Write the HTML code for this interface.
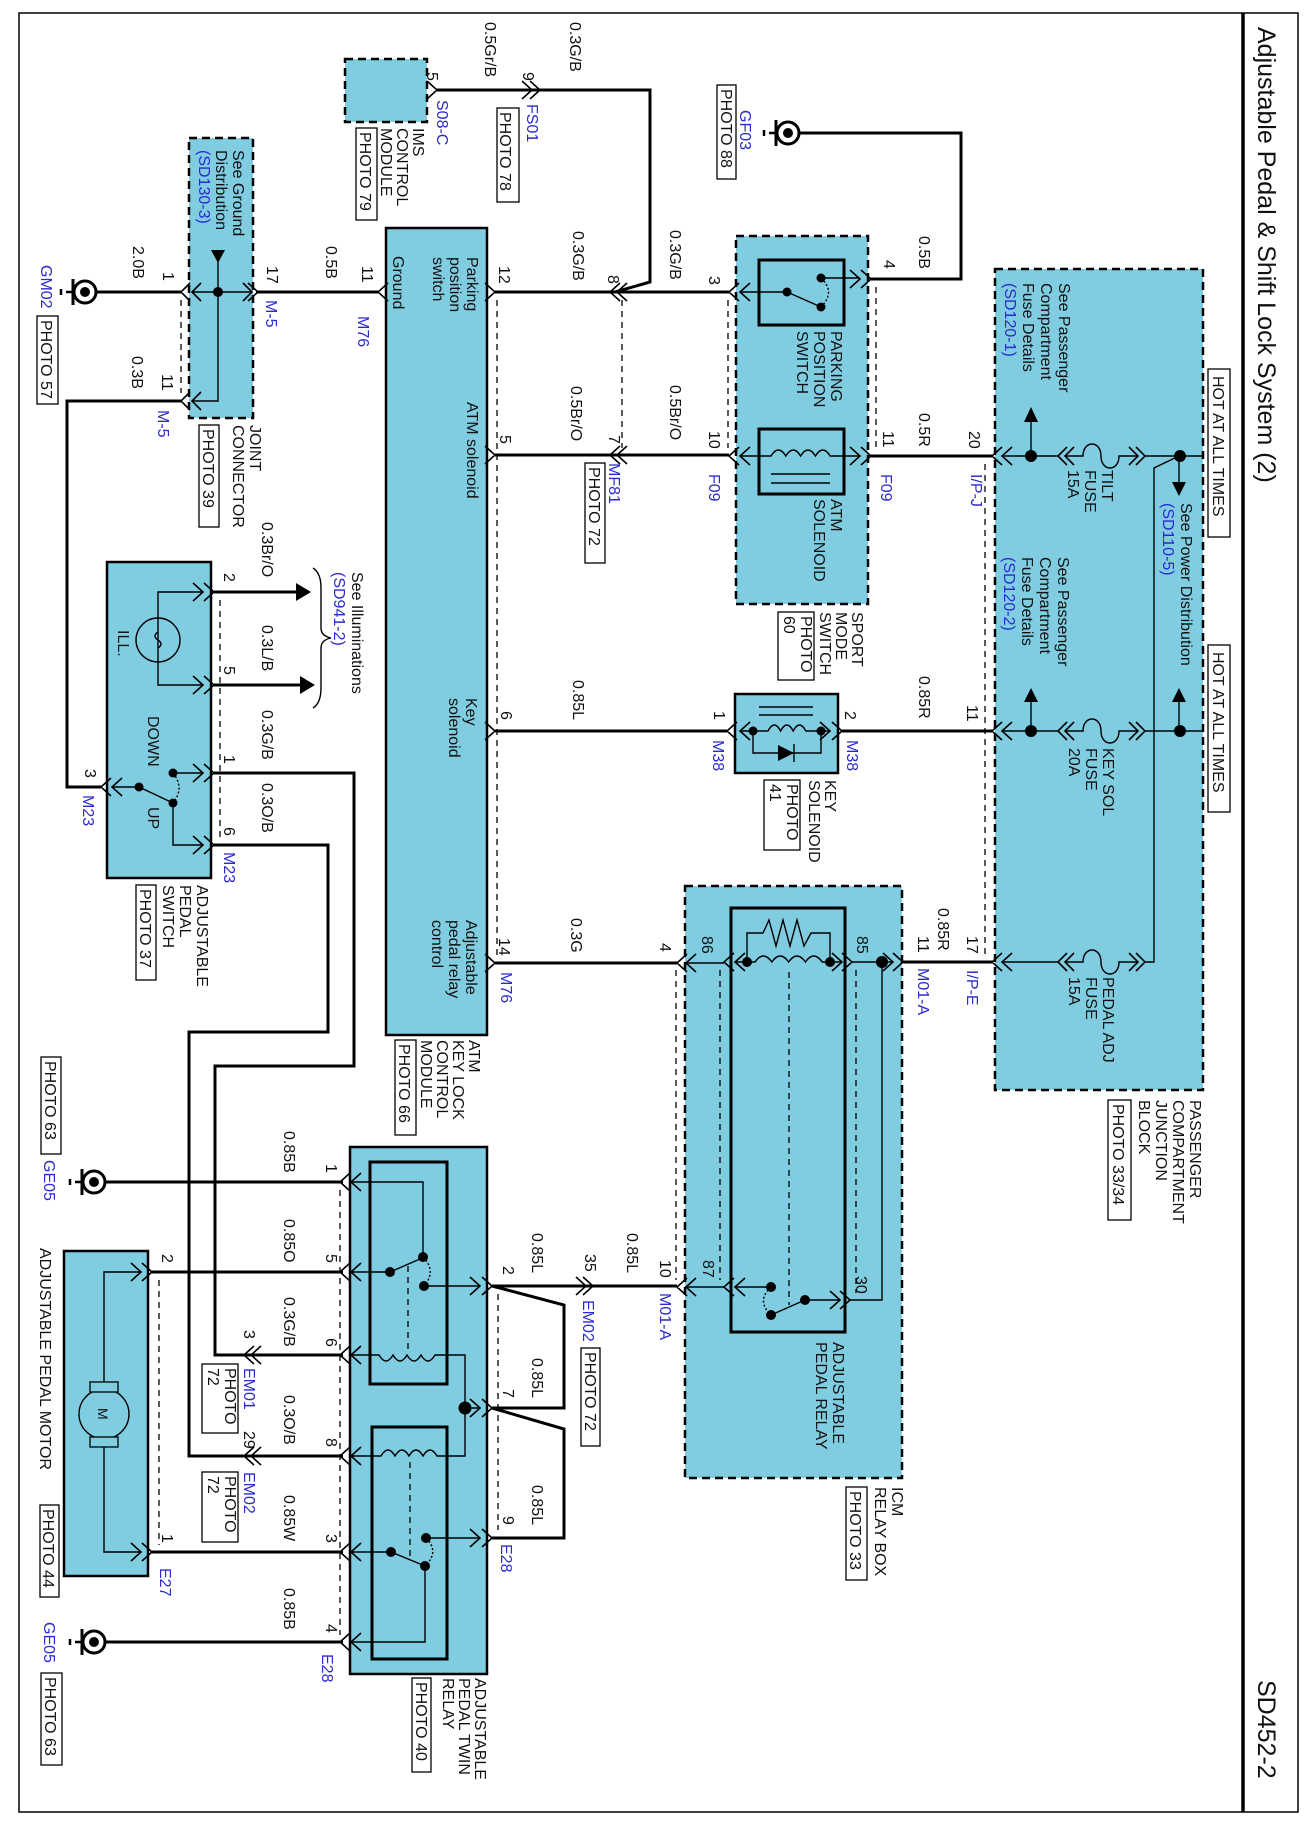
<!DOCTYPE html>
<html><head><meta charset="utf-8"><style>
html,body{margin:0;padding:0;background:#fff}
svg{display:block}
text{font-family:"Liberation Sans",sans-serif;font-size:16px;fill:#111}
.b{fill:#2a2ad0}
.w{stroke:#000;stroke-width:3;fill:none}
.t{stroke:#000;stroke-width:1.4;fill:none}
.d{stroke:#000;stroke-width:1.3;stroke-dasharray:6,5;fill:none}
.dt{stroke:#000;stroke-width:1.4;stroke-dasharray:2,2;fill:none}
.bx{fill:#80cde1;stroke:#000;stroke-width:2.5}
.dbx{fill:#80cde1;stroke:#000;stroke-width:2.5;stroke-dasharray:8,5}
.ib{fill:none;stroke:#000;stroke-width:3}
.pb{fill:#fff;stroke:#000;stroke-width:1.3}
</style></head><body>
<svg width="1312" height="1824" viewBox="0 0 1312 1824" xmlns="http://www.w3.org/2000/svg">
<rect x="19" y="13" width="1279" height="1799" fill="none" stroke="#000" stroke-width="1.5"/>
<line x1="1243" y1="13" x2="1243" y2="1812" stroke="#000" stroke-width="3.5"/>
<text transform="translate(1258,27) rotate(90)" style="font-size:25px">Adjustable Pedal &amp; Shift Lock System (2)</text>
<text transform="translate(1258,1680) rotate(90)" style="font-size:25px">SD452-2</text>

<rect class="dbx" x="995" y="269" width="208" height="821"/>
<rect class="dbx" x="736" y="236" width="132" height="368"/>
<rect class="dbx" x="685" y="886" width="217" height="592"/>
<rect class="dbx" x="189" y="138" width="64" height="280"/>
<rect class="dbx" x="345" y="59" width="82" height="63"/>
<rect class="bx" x="386" y="228" width="101" height="807"/>
<rect class="bx" x="735" y="694" width="103" height="79"/>
<rect class="bx" x="107" y="562" width="104" height="316"/>
<rect class="bx" x="350" y="1147" width="137" height="527"/>
<rect class="bx" x="64" y="1251" width="84" height="325"/>
<rect class="ib" x="759" y="260" width="85" height="65"/>
<rect class="ib" x="759" y="429" width="85" height="65"/>
<rect class="ib" x="731" y="908" width="114" height="424"/>
<rect class="ib" x="370" y="1162" width="77" height="222"/>
<rect class="ib" x="372" y="1427" width="75" height="232"/>

<rect class="pb" x="1208" y="369" width="22" height="168"/>
<text transform="translate(1213,376) rotate(90)">HOT AT ALL TIMES</text>
<rect class="pb" x="1208" y="645" width="22" height="167"/>
<text transform="translate(1213,652) rotate(90)">HOT AT ALL TIMES</text>

<path class="d" d="M181 300V393 M497 300V955 M622 300V448 M728 300V448 M876 287V448 M985 464V955 M676 970V1280 M720 970V1280 M856 970V1293 M340 1190V1635 M498 1294V1530 M159 1280V1545 M220 600V840"/>

<path class="w" d="M436 90H650V282L615 292 M96 292H181 M256 292H378 M495 292H729 M871 279H961V133H799 M181 401H67V787H101 M495 455H729 M871 456H992 M495 731H727 M842 731H992 M495 963H677 M903 962H992 M492 1286H677 M492 1286L564 1305V1408H492 M492 1408L564 1429V1538H492 M105 1182H343 M152 1272H343 M244 1355H343 M244 1456H343 M152 1552H343 M105 1642H343 M214 592H298 M214 685H300 M214 773H354V1066H215V1355H244 M214 845H328V1032H189V1456H244"/>

<path class="t" style="stroke-width:1.6" d="
M190 283L181 292L190 301 M201 283L192 292L201 301 M243 283L252 292L243 301 M248 283L258 292L248 301
M388 283L378 292L388 301 M485 283L495 292L485 301 M620 283L610 292L620 301 M627 283L617 292L627 301
M739 283L729 292L739 301 M750 283L740 292L750 301 M861 270L871 279L861 288 M850 270L860 279L850 288
M190 392L181 401L190 410 M201 392L192 401L201 410
M485 446L495 455L485 464 M620 446L610 455L620 464 M627 446L617 455L627 464
M739 447L729 456L739 465 M750 447L740 456L750 465 M861 447L871 456L861 465 M850 447L860 456L850 465
M1002 447L992 456L1002 465 M1012 447L1002 456L1012 465 M1067 447L1058 456L1067 465 M1074 447L1065 456L1074 465 M1136 447L1145 456L1136 465 M1129 447L1138 456L1129 465
M485 722L495 731L485 740 M737 722L727 731L737 740 M750 722L740 731L750 740 M832 722L842 731L832 740 M820 722L830 731L820 740
M1002 722L992 731L1002 740 M1012 722L1002 731L1012 740 M1067 722L1058 731L1067 740 M1074 722L1065 731L1074 740 M1136 722L1145 731L1136 740 M1129 722L1138 731L1129 740
M485 954L495 963L485 972 M687 954L677 963L687 972 M696 954L686 963L696 972 M734 953L724 962L734 971 M745 953L735 962L745 971 M842 953L852 962L842 971 M832 953L842 962L832 971 M893 953L903 962L893 971 M883 953L893 962L883 971
M1002 953L992 962L1002 971 M1012 953L1002 962L1012 971 M1067 953L1058 962L1067 971 M1074 953L1065 962L1074 971 M1136 953L1145 962L1136 971 M1129 953L1138 962L1129 971
M687 1278L677 1287L687 1296 M696 1278L686 1287L696 1296 M734 1278L724 1287L734 1296 M745 1278L735 1287L745 1296 M840 1291L850 1300L840 1309 M830 1291L840 1300L830 1309
M583 1277L593 1286L583 1295 M576 1277L586 1286L576 1295
M482 1277L492 1286L482 1295 M470 1277L480 1286L470 1295 M482 1399L492 1408L482 1417 M470 1399L480 1408L470 1417 M482 1529L492 1538L482 1547 M470 1529L480 1538L470 1547
M350 1173L340 1182L350 1191 M361 1173L351 1182L361 1191 M350 1263L340 1272L350 1281 M361 1263L351 1272L361 1281 M350 1346L340 1355L350 1364 M361 1346L351 1355L361 1364 M350 1447L340 1456L350 1465 M361 1447L351 1456L361 1465 M350 1543L340 1552L350 1561 M361 1543L351 1552L361 1561 M350 1633L340 1642L350 1651 M361 1633L351 1642L361 1651
M254 1346L244 1355L254 1364 M261 1346L251 1355L261 1364 M254 1447L244 1456L254 1465 M261 1447L251 1456L261 1465
M142 1263L152 1272L142 1281 M131 1263L141 1272L131 1281 M142 1543L152 1552L142 1561 M131 1543L141 1552L131 1561
M204 583L214 592L204 601 M193 583L203 592L193 601 M204 676L214 685L204 694 M193 676L203 685L193 694 M204 764L214 773L204 782 M193 764L203 773L193 782 M204 836L214 845L204 854 M193 836L203 845L193 854
M111 778L101 787L111 796 M122 778L112 787L122 796
M427 81L437 90L427 99 M522 81L532 90L522 99 M530 81L540 90L530 99"/>

<g id="g1"><circle cx="85" cy="292" r="11" fill="#fff" stroke="#000" stroke-width="3"/><circle cx="85" cy="292" r="5"/><path d="M73 279V305" stroke="#000" stroke-width="3"/><path d="M73 292H66M61 289V295" stroke="#000" stroke-width="2.5"/></g>
<use href="#g1" transform="translate(9,890)"/>
<use href="#g1" transform="translate(9,1350)"/>
<use href="#g1" transform="translate(703,-159)"/>

<path class="t" d="M192 292H252 M218 262V401H192"/>
<path d="M211 250H225L218 263Z"/>
<circle cx="218" cy="292" r="5"/>

<path class="t" d="M740 292H787L821 307 M821 278H860"/>
<path class="dt" d="M821 278Q836 292 821 307"/>
<circle cx="787" cy="292" r="4.5"/><circle cx="821" cy="307" r="4.5"/><circle cx="821" cy="278" r="4.5"/>
<path class="t" d="M740 456H771 q7.4 -12 14.8 0 q7.4 -12 14.8 0 q7.4 -12 14.8 0 q7.4 -12 14.8 0 H860 M771 474H830 M771 483H830"/>
<path class="t" d="M740 731H753 M753 731H768 q6.3 -12 12.6 0 q6.3 -12 12.6 0 q6.3 -12 12.6 0 H830 M753 731V753H821V731 M759 707H813 M759 715H813 M794 744V762"/>
<path d="M778 745L778 761L794 753Z"/>
<circle cx="753" cy="731" r="4.5"/><circle cx="821" cy="731" r="4.5"/>

<path class="t" d="M1002 456H1058 M1065 456H1083 c0,-16 18,-16 18,0 s18,16 18,0 H1138 M1145 456H1203 M1031 456V420 M1179 456V485 M1179 456L1154 468V962H1145
M1002 731H1058 M1065 731H1083 c0,-16 18,-16 18,0 s18,16 18,0 H1138 M1145 731H1203 M1031 731V700 M1179 731V700
M1002 962H1058 M1065 962H1083 c0,-16 18,-16 18,0 s18,16 18,0 H1138"/>
<circle cx="1031" cy="456" r="6"/><circle cx="1180" cy="456" r="6"/><circle cx="1031" cy="731" r="6"/><circle cx="1180" cy="731" r="6"/>
<path d="M1024 422H1038L1031 407Z M1172 482H1186L1179 496Z M1024 702H1038L1031 688Z M1172 702H1186L1179 688Z"/>

<path class="t" d="M686 963H724 M735 962H747 M747 962H755 q8.4 -12 16.8 0 q8.4 -12 16.8 0 q8.4 -12 16.8 0 q8.4 -12 16.8 0 H842 M852 962H893 M747 962V933H763 l6 -13 l7 26 l7 -26 l7 26 l7 -26 l7 26 l7 -13 H830V962
M686 1287H724 M735 1287H771 M771 1315L805 1300 M805 1300H840 M850 1300H882V962"/>
<path class="d" d="M789 972V1305"/>
<path class="dt" d="M771 1287Q756 1301 771 1315"/>
<circle cx="747" cy="962" r="5"/><circle cx="830" cy="962" r="5"/><circle cx="882" cy="962" r="6"/>
<circle cx="771" cy="1287" r="5"/><circle cx="771" cy="1315" r="5"/><circle cx="805" cy="1300" r="5"/>

<path class="t" d="M351 1182H423V1257 M351 1272H390L420 1259 M424 1286H480
M351 1355H379 q7 12 14 0 q7 12 14 0 q7 12 14 0 q7 12 14 0 H465V1456H437 q-7 -12 -14 0 q-7 -12 -14 0 q-7 -12 -14 0 q-7 -12 -14 0 H351 M465 1408H480
M351 1552H391L425 1566 M426 1538H480 M425 1566V1642H351"/>
<path class="d" d="M408 1266V1352 M410 1462V1556"/>
<path class="dt" d="M423 1257Q437 1271 424 1286 M426 1538Q440 1552 425 1566"/>
<circle cx="423" cy="1257" r="5"/><circle cx="390" cy="1272" r="5"/><circle cx="424" cy="1286" r="5"/>
<circle cx="465" cy="1408" r="6.5"/>
<circle cx="391" cy="1552" r="5"/><circle cx="426" cy="1538" r="5"/><circle cx="425" cy="1566" r="5"/>

<path class="t" d="M141 1272H104V1389 M104 1439V1552H141"/>
<circle cx="104" cy="1414" r="25" fill="#80cde1" stroke="#000" stroke-width="1.4"/>
<rect x="90" y="1382" width="28" height="10" fill="#80cde1" stroke="#000" stroke-width="1.3"/>
<rect x="90" y="1437" width="28" height="10" fill="#80cde1" stroke="#000" stroke-width="1.3"/>
<text transform="translate(98,1408) rotate(90)" style="font-size:14px">M</text>

<path class="t" d="M203 592H158V685H203 M112 787H139L173 803 M173 773H203 M173 803V845H203"/>
<circle cx="158" cy="640" r="22" fill="none" stroke="#000" stroke-width="1.4"/>
<path class="t" d="M158 632q-6 4 0 8q6 4 0 8"/>
<path class="dt" d="M173 773Q185 788 173 803"/>
<circle cx="139" cy="787" r="4.5"/><circle cx="173" cy="803" r="4.5"/><circle cx="173" cy="773" r="4.5"/>
<path d="M296 583V601L311 592Z M300 676V694L315 685Z"/>
<path class="t" d="M313 568q8 5 8 20v40q0 8 10 10q-10 2 -10 10v40q0 15 -8 20"/>

<rect class="pb" x="37" y="316" width="21" height="88"/>
<rect class="pb" x="199" y="425" width="20" height="102"/>
<rect class="pb" x="356" y="128" width="21" height="92"/>
<rect class="pb" x="497" y="108" width="22" height="94"/>
<rect class="pb" x="585" y="463" width="20" height="100"/>
<rect class="pb" x="717" y="85" width="19" height="94"/>
<rect class="pb" x="778" y="612" width="36" height="68"/>
<rect class="pb" x="764" y="780" width="36" height="70"/>
<rect class="pb" x="1108" y="1100" width="23" height="120"/>
<rect class="pb" x="846" y="1487" width="21" height="93"/>
<rect class="pb" x="136" y="885" width="20" height="95"/>
<rect class="pb" x="395" y="1040" width="21" height="95"/>
<rect class="pb" x="41" y="1057" width="20" height="97"/>
<rect class="pb" x="202" y="1364" width="36" height="69"/>
<rect class="pb" x="202" y="1472" width="36" height="70"/>
<rect class="pb" x="581" y="1348" width="19" height="98"/>
<rect class="pb" x="40" y="1505" width="19" height="92"/>
<rect class="pb" x="41" y="1673" width="21" height="92"/>
<rect class="pb" x="412" y="1678" width="19" height="94"/>

<g>
<text transform="translate(485,22) rotate(90)">0.5Gr/B</text>
<text transform="translate(570,22) rotate(90)">0.3G/B</text>
<text transform="translate(427,72) rotate(90)">5</text>
<text transform="translate(523,72) rotate(90)">9</text>
<text class="b" transform="translate(437,100) rotate(90)">S08-C</text>
<text class="b" transform="translate(527,104) rotate(90)">FS01</text>
<text transform="translate(500,112) rotate(90)">PHOTO 78</text>
<text transform="translate(413,128) rotate(90)">IMS<tspan x="0" dy="16">CONTROL</tspan><tspan x="0" dy="16">MODULE</tspan></text>
<text transform="translate(360,132) rotate(90)">PHOTO 79</text>
<text transform="translate(233,150) rotate(90)">See Ground<tspan x="0" dy="17">Distribution</tspan><tspan class="b" x="0" dy="17">(SD130-3)</tspan></text>
<text transform="translate(133,246) rotate(90)">2.0B</text>
<text transform="translate(163,272) rotate(90)">1</text>
<text transform="translate(267,266) rotate(90)">17</text>
<text class="b" transform="translate(266,300) rotate(90)">M-5</text>
<text transform="translate(326,246) rotate(90)">0.5B</text>
<text transform="translate(362,266) rotate(90)">11</text>
<text class="b" transform="translate(358,316) rotate(90)">M76</text>
<text class="b" transform="translate(41,265) rotate(90)">GM02</text>
<text transform="translate(41,320) rotate(90)">PHOTO 57</text>
<text transform="translate(132,356) rotate(90)">0.3B</text>
<text transform="translate(162,374) rotate(90)">11</text>
<text class="b" transform="translate(158,410) rotate(90)">M-5</text>
<text transform="translate(250,425) rotate(90)">JOINT<tspan x="0" dy="17">CONNECTOR</tspan></text>
<text transform="translate(203,429) rotate(90)">PHOTO 39</text>
<text transform="translate(467,257) rotate(90)">Parking<tspan x="0" dy="17">position</tspan><tspan x="0" dy="17">switch</tspan></text>
<text transform="translate(393,256) rotate(90)">Ground</text>
<text transform="translate(499,266) rotate(90)">12</text>
<text transform="translate(573,231) rotate(90)">0.3G/B</text>
<text transform="translate(608,275) rotate(90)">8</text>
<text transform="translate(467,402) rotate(90)">ATM solenoid</text>
<text transform="translate(500,435) rotate(90)">5</text>
<text transform="translate(571,386) rotate(90)">0.5Br/O</text>
<text transform="translate(609,435) rotate(90)">7</text>
<text class="b" transform="translate(609,463) rotate(90)">MF81</text>
<text transform="translate(589,467) rotate(90)">PHOTO 72</text>
<text transform="translate(670,230) rotate(90)">0.3G/B</text>
<text transform="translate(709,276) rotate(90)">3</text>
<text transform="translate(670,385) rotate(90)">0.5Br/O</text>
<text transform="translate(709,431) rotate(90)">10</text>
<text class="b" transform="translate(709,474) rotate(90)">F09</text>
<text transform="translate(831,331) rotate(90)">PARKING<tspan x="0" dy="17">POSITION</tspan><tspan x="0" dy="17">SWITCH</tspan></text>
<text transform="translate(831,499) rotate(90)">ATM<tspan x="0" dy="17">SOLENOID</tspan></text>
<text transform="translate(884,260) rotate(90)">4</text>
<text transform="translate(919,236) rotate(90)">0.5B</text>
<text transform="translate(883,431) rotate(90)">11</text>
<text class="b" transform="translate(881,474) rotate(90)">F09</text>
<text transform="translate(919,413) rotate(90)">0.5R</text>
<text transform="translate(969,431) rotate(90)">20</text>
<text class="b" transform="translate(971,474) rotate(90)">I/P-J</text>
<text class="b" transform="translate(740,110) rotate(90)">GF03</text>
<text transform="translate(721,89) rotate(90)">PHOTO 88</text>
<text transform="translate(1059,283) rotate(90)">See Passenger<tspan x="0" dy="18">Compartment</tspan><tspan x="0" dy="18">Fuse Details</tspan><tspan class="b" x="0" dy="18">(SD120-1)</tspan></text>
<text transform="translate(1102,470) rotate(90)">TILT<tspan x="0" dy="17">FUSE</tspan><tspan x="0" dy="17">15A</tspan></text>
<text transform="translate(1181,503) rotate(90)">See Power Distribution<tspan class="b" x="0" dy="18">(SD110-5)</tspan></text>
<text transform="translate(1058,557) rotate(90)">See Passenger<tspan x="0" dy="18">Compartment</tspan><tspan x="0" dy="18">Fuse Details</tspan><tspan class="b" x="0" dy="18">(SD120-2)</tspan></text>
<text transform="translate(1103,748) rotate(90)">KEY SOL<tspan x="0" dy="17">FUSE</tspan><tspan x="0" dy="17">20A</tspan></text>
<text transform="translate(1103,977) rotate(90)">PEDAL ADJ<tspan x="0" dy="17">FUSE</tspan><tspan x="0" dy="17">15A</tspan></text>
<text transform="translate(1190,1100) rotate(90)">PASSENGER<tspan x="0" dy="17">COMPARTMENT</tspan><tspan x="0" dy="17">JUNCTION</tspan><tspan x="0" dy="17">BLOCK</tspan></text>
<text transform="translate(1113,1104) rotate(90)">PHOTO 33/34</text>
<text transform="translate(852,612) rotate(90)">SPORT<tspan x="0" dy="16">MODE</tspan><tspan x="0" dy="16">SWITCH</tspan></text>
<text transform="translate(801,616) rotate(90)">PHOTO<tspan x="0" dy="17">60</tspan></text>
<text transform="translate(919,676) rotate(90)">0.85R</text>
<text transform="translate(967,705) rotate(90)">11</text>
<text transform="translate(845,711) rotate(90)">2</text>
<text class="b" transform="translate(847,740) rotate(90)">M38</text>
<text transform="translate(714,711) rotate(90)">1</text>
<text class="b" transform="translate(713,740) rotate(90)">M38</text>
<text transform="translate(825,780) rotate(90)">KEY<tspan x="0" dy="16">SOLENOID</tspan></text>
<text transform="translate(787,784) rotate(90)">PHOTO<tspan x="0" dy="17">41</tspan></text>
<text transform="translate(938,908) rotate(90)">0.85R</text>
<text transform="translate(918,936) rotate(90)">11</text>
<text transform="translate(967,936) rotate(90)">17</text>
<text class="b" transform="translate(918,968) rotate(90)">M01-A</text>
<text class="b" transform="translate(967,970) rotate(90)">I/P-E</text>
<text transform="translate(857,936) rotate(90)">85</text>
<text transform="translate(702,936) rotate(90)">86</text>
<text transform="translate(660,943) rotate(90)">4</text>
<text transform="translate(703,1260) rotate(90)">87</text>
<text transform="translate(856,1276) rotate(90)">30</text>
<text transform="translate(660,1260) rotate(90)">10</text>
<text class="b" transform="translate(660,1293) rotate(90)">M01-A</text>
<text transform="translate(833,1342) rotate(90)">ADJUSTABLE<tspan x="0" dy="17">PEDAL RELAY</tspan></text>
<text transform="translate(892,1487) rotate(90)">ICM<tspan x="0" dy="17">RELAY BOX</tspan></text>
<text transform="translate(850,1491) rotate(90)">PHOTO 33</text>
<text transform="translate(466,698) rotate(90)">Key<tspan x="0" dy="17">solenoid</tspan></text>
<text transform="translate(573,680) rotate(90)">0.85L</text>
<text transform="translate(501,711) rotate(90)">6</text>
<text transform="translate(466,920) rotate(90)">Adjustable<tspan x="0" dy="17">pedal relay</tspan><tspan x="0" dy="17">control</tspan></text>
<text transform="translate(499,938) rotate(90)">14</text>
<text class="b" transform="translate(501,972) rotate(90)">M76</text>
<text transform="translate(571,918) rotate(90)">0.3G</text>
<text transform="translate(469,1040) rotate(90)">ATM<tspan x="0" dy="16">KEY LOCK</tspan><tspan x="0" dy="16">CONTROL</tspan><tspan x="0" dy="16">MODULE</tspan></text>
<text transform="translate(399,1044) rotate(90)">PHOTO 66</text>
<text transform="translate(224,573) rotate(90)">2</text>
<text transform="translate(262,522) rotate(90)">0.3Br/O</text>
<text transform="translate(224,666) rotate(90)">5</text>
<text transform="translate(262,625) rotate(90)">0.3L/B</text>
<text transform="translate(224,755) rotate(90)">1</text>
<text transform="translate(262,710) rotate(90)">0.3G/B</text>
<text transform="translate(224,827) rotate(90)">6</text>
<text transform="translate(262,783) rotate(90)">0.3O/B</text>
<text class="b" transform="translate(224,852) rotate(90)">M23</text>
<text transform="translate(85,769) rotate(90)">3</text>
<text class="b" transform="translate(83,795) rotate(90)">M23</text>
<text transform="translate(118,630) rotate(90)">ILL.</text>
<text transform="translate(148,716) rotate(90)">DOWN</text>
<text transform="translate(148,807) rotate(90)">UP</text>
<text transform="translate(352,572) rotate(90)">See Illuminations<tspan class="b" x="0" dy="18">(SD941-2)</tspan></text>
<text transform="translate(197,885) rotate(90)">ADJUSTABLE<tspan x="0" dy="17">PEDAL</tspan><tspan x="0" dy="17">SWITCH</tspan></text>
<text transform="translate(140,889) rotate(90)">PHOTO 37</text>
<text transform="translate(45,1061) rotate(90)">PHOTO 63</text>
<text class="b" transform="translate(44,1160) rotate(90)">GE05</text>
<text transform="translate(284,1131) rotate(90)">0.85B</text>
<text transform="translate(326,1164) rotate(90)">1</text>
<text transform="translate(284,1219) rotate(90)">0.85O</text>
<text transform="translate(326,1254) rotate(90)">5</text>
<text transform="translate(162,1254) rotate(90)">2</text>
<text transform="translate(284,1297) rotate(90)">0.3G/B</text>
<text transform="translate(326,1338) rotate(90)">6</text>
<text transform="translate(244,1330) rotate(90)">3</text>
<text class="b" transform="translate(244,1368) rotate(90)">EM01</text>
<text transform="translate(225,1368) rotate(90)">PHOTO<tspan x="0" dy="17">72</tspan></text>
<text transform="translate(244,1431) rotate(90)">29</text>
<text transform="translate(284,1395) rotate(90)">0.3O/B</text>
<text transform="translate(326,1438) rotate(90)">8</text>
<text class="b" transform="translate(244,1472) rotate(90)">EM02</text>
<text transform="translate(225,1476) rotate(90)">PHOTO<tspan x="0" dy="17">72</tspan></text>
<text transform="translate(284,1495) rotate(90)">0.85W</text>
<text transform="translate(326,1534) rotate(90)">3</text>
<text transform="translate(162,1534) rotate(90)">1</text>
<text class="b" transform="translate(160,1568) rotate(90)">E27</text>
<text transform="translate(284,1588) rotate(90)">0.85B</text>
<text transform="translate(326,1624) rotate(90)">4</text>
<text class="b" transform="translate(322,1654) rotate(90)">E28</text>
<text transform="translate(503,1266) rotate(90)">2</text>
<text transform="translate(532,1233) rotate(90)">0.85L</text>
<text transform="translate(585,1254) rotate(90)">35</text>
<text class="b" transform="translate(583,1300) rotate(90)">EM02</text>
<text transform="translate(585,1352) rotate(90)">PHOTO 72</text>
<text transform="translate(627,1233) rotate(90)">0.85L</text>
<text transform="translate(532,1358) rotate(90)">0.85L</text>
<text transform="translate(503,1389) rotate(90)">7</text>
<text transform="translate(532,1485) rotate(90)">0.85L</text>
<text transform="translate(503,1516) rotate(90)">9</text>
<text class="b" transform="translate(501,1544) rotate(90)">E28</text>
<text transform="translate(40,1248) rotate(90)">ADJUSTABLE PEDAL MOTOR</text>
<text transform="translate(43,1509) rotate(90)">PHOTO 44</text>
<text class="b" transform="translate(44,1622) rotate(90)">GE05</text>
<text transform="translate(45,1677) rotate(90)">PHOTO 63</text>
<text transform="translate(475,1678) rotate(90)">ADJUSTABLE<tspan x="0" dy="16">PEDAL TWIN</tspan><tspan x="0" dy="16">RELAY</tspan></text>
<text transform="translate(416,1682) rotate(90)">PHOTO 40</text>
</g>
</svg>
</body></html>
